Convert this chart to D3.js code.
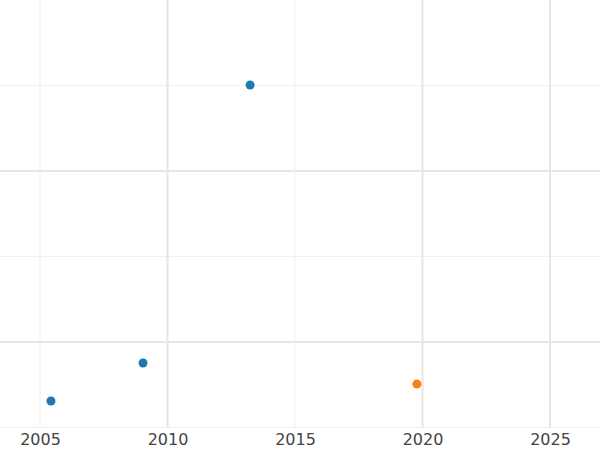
<!DOCTYPE html>
<html><head><meta charset="utf-8">
<script src="https://cdn.jsdelivr.net/npm/d3@7"></script>
<style>body{margin:0;background:#fff}</style>
</head><body><div id="chart"></div>
<script>
// points (y in arbitrary units, no labels shown)
var years = [2005.43, 2009.04, 2013.24, 2019.78];
var values = [0.655, 0.877, 2.503, 0.754];
var groups = ["a", "a", "a", "b"];
var xTicks = [2005, 2010, 2015, 2020, 2025];
var xMajor = [2010, 2020, 2025];
var yMajor = [1, 2];
var yMinor = [0.5, 1.5, 2.5];

var width = 600, height = 450, plotBottom = 427;
var x = d3.scaleLinear().domain([2005, 2025]).range([40, 550]);
var y = d3.scaleLinear().domain([0, 3]).range([513, 0]);
var colour = d3.scaleOrdinal().domain(["a", "b"]).range(["#1f77b4", "#ff7f0e"]);

var svg = d3.select("#chart").append("svg").attr("width", width).attr("height", height);

// grid
svg.append("g").selectAll("line").data(yMinor).enter().append("line")
  .attr("x1", 0).attr("x2", width).attr("y1", y).attr("y2", y)
  .attr("stroke", "#efefef").attr("stroke-width", 1);
svg.append("g").selectAll("line").data(yMajor).enter().append("line")
  .attr("x1", 0).attr("x2", width).attr("y1", y).attr("y2", y)
  .attr("stroke", "#e6e6e6").attr("stroke-width", 2);
svg.append("g").selectAll("line").data(xTicks).enter().append("line")
  .attr("x1", x).attr("x2", x).attr("y1", 0).attr("y2", plotBottom)
  .attr("stroke", function(d) { return xMajor.includes(d) ? "#e6e6e6" : "#efefef"; })
  .attr("stroke-width", function(d) { return xMajor.includes(d) ? 2 : 1; });

// x axis
var ax = svg.append("g").attr("transform", "translate(0," + plotBottom + ")")
  .call(d3.axisBottom(x).tickValues(xTicks).tickFormat(d3.format("d")).tickSize(0).tickPadding(7));
ax.select(".domain").remove();
ax.selectAll("text").style("font-family", "DejaVu Sans").style("font-size", "16px").attr("fill", "#444");

// points
svg.append("g").selectAll("circle").data(years).enter().append("circle")
  .attr("cx", function(d) { return x(d); })
  .attr("cy", function(d, i) { return y(values[i]); })
  .attr("r", 4.5)
  .attr("fill", function(d, i) { return colour(groups[i]); });
</script></body></html>
